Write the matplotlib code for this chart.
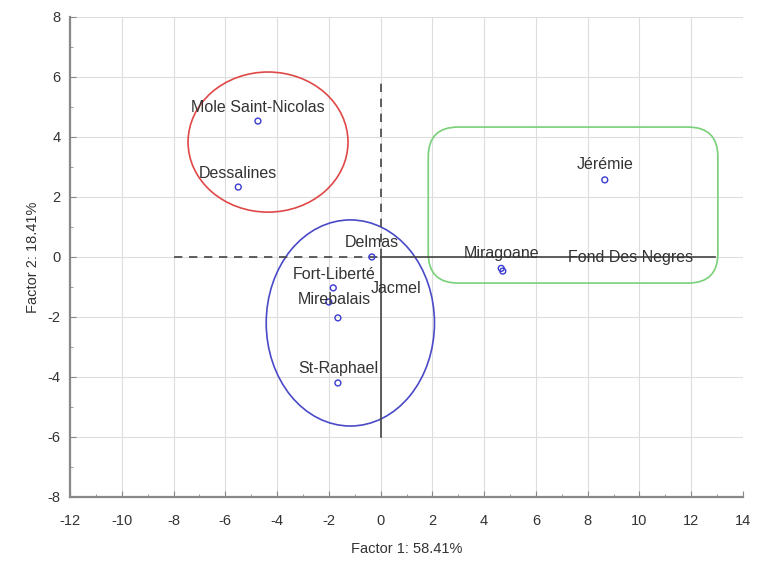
import matplotlib
matplotlib.use("Agg")
import matplotlib.pyplot as plt
from matplotlib.patches import Ellipse, FancyBboxPatch
from matplotlib.ticker import MultipleLocator

plt.rcParams['font.family'] = ['Liberation Sans', 'DejaVu Sans']
plt.rcParams['axes.unicode_minus'] = False

names = ["Mole Saint-Nicolas", "Dessalines", "Jérémie", "Miragoane", "Fond Des Negres",
         "Delmas", "Fort-Liberté", "Jacmel", "Mirebalais", "St-Raphael"]
f1 = [-4.74, -5.50, 8.66, 4.66, 4.72, -0.34, -1.83, -2.00, -1.65, -1.65]
f2 = [4.53, 2.33, 2.57, -0.38, -0.47, 0.0, -1.03, -1.50, -2.03, -4.20]
# label offsets in pixels (dx, dy)
label_off = [(0, 14), (0, 14), (0, 15), (0, 15), (128, 14),
             (0, 14), (1, 13), (67, 13), (-4, 18), (0, 14)]

xlabel = "Factor 1: 58.41%"
ylabel = "Factor 2: 18.41%"

fig = plt.figure(figsize=(7.57, 5.62), dpi=100)
ax = fig.add_axes([0.0925, 0.1157, 0.889, 0.8541])
ax.set_xlim(-12, 14)
ax.set_ylim(-8, 8)
ax.xaxis.set_major_locator(MultipleLocator(2))
ax.xaxis.set_minor_locator(MultipleLocator(1))
ax.yaxis.set_major_locator(MultipleLocator(2))
ax.yaxis.set_minor_locator(MultipleLocator(1))
ax.grid(True, which='major', color='#dddddd', linewidth=0.8)
ax.set_axisbelow(True)
for s in ['top', 'right']:
    ax.spines[s].set_visible(False)
for s in ['left', 'bottom']:
    ax.spines[s].set_color('#888888')
    ax.spines[s].set_linewidth(1.6)
ax.tick_params(which='both', direction='in', colors='#888888', labelcolor='#333333', labelsize=10.5)
ax.tick_params(which='major', length=4)
ax.tick_params(which='minor', length=2)
ax.tick_params(axis='x', which='major', pad=12)
ax.tick_params(axis='y', which='major', pad=7)

ax.set_xlabel(xlabel, fontsize=10.5, color='#333333', labelpad=10)
ax.set_ylabel(ylabel, fontsize=10.5, color='#333333', labelpad=5)

# reference lines
ax.plot([-8, 0], [0, 0], color='#444444', lw=1.2, ls=(0, (5, 4)))
ax.plot([0, 0], [0, 6], color='#444444', lw=1.2, ls=(0, (5, 4)))
ax.plot([0, 12.9], [0, 0], color='#444444', lw=1.2)
ax.plot([0, 0], [0, -6], color='#444444', lw=1.2)

# group shapes
ax.add_patch(Ellipse((-4.35, 3.83), 6.18, 4.67, fill=False, edgecolor='#e04848', lw=1.2))
ax.add_patch(Ellipse((-1.17, -2.2), 6.5, 6.87, fill=False, edgecolor='#4a4ac8', lw=1.2))
ax.add_patch(FancyBboxPatch((1.84, -0.87), 13.03 - 1.84, 4.33 + 0.87,
                            boxstyle="round,pad=0,rounding_size=1.15",
                            mutation_aspect=0.86, fill=False, edgecolor='#78d078', lw=1.2))

ax.scatter(f1, f2, s=18, facecolors='none', edgecolors='#3a3ad0', linewidths=1.0, zorder=5)
for n, x, y, (dx, dy) in zip(names, f1, f2, label_off):
    ax.annotate(n, (x, y), xytext=(dx * 0.72, dy * 0.72), textcoords='offset points',
                ha='center', va='center', fontsize=11.5, color='#333333', zorder=6)

fig.savefig("out.png", dpi=100)
